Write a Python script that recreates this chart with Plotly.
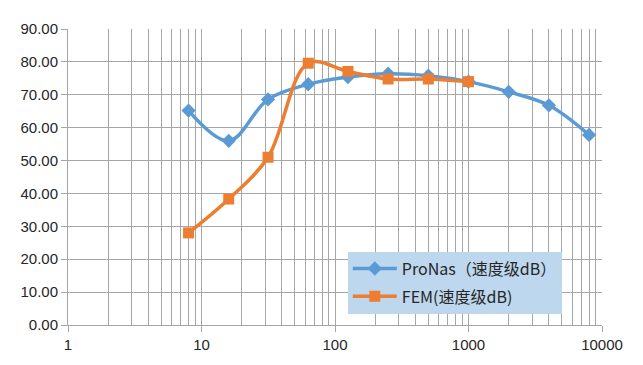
import plotly.graph_objects as go

freq_pronas = [8, 16, 31.5, 63, 125, 250, 500, 1000, 2000, 4000, 8000]
val_pronas = [65.2, 56.0, 68.6, 73.2, 75.4, 76.4, 75.8, 74.0, 70.9, 66.8, 57.8]
freq_fem = [8, 16, 31.5, 63, 125, 250, 500, 1000]
val_fem = [28.0, 38.3, 51.0, 79.6, 77.1, 74.8, 74.8, 74.0]
name_pronas = "ProNas（速度级dB）"
name_fem = "FEM(速度级dB)"
y_ticks = [0, 10, 20, 30, 40, 50, 60, 70, 80, 90]
x_major = [1, 10, 100, 1000, 10000]
x_minor = [m * d for d in [1, 10, 100, 1000] for m in range(2, 10)]

blue = "#5B9BD5"
orange = "#ED7D31"
grid = "#A6A6A6"

fig = go.Figure()
fig.add_trace(go.Scatter(
    x=freq_pronas, y=val_pronas, name=name_pronas, mode="lines+markers",
    legendgroup="a",
    line=dict(color=blue, width=3.5, shape="spline", smoothing=1.0),
    marker=dict(symbol="diamond", size=11, color=blue),
))
fig.add_trace(go.Scatter(
    x=freq_fem, y=val_fem, name=name_fem, mode="lines+markers",
    legendgroup="b",
    line=dict(color=orange, width=3.5, shape="spline", smoothing=1.0),
    marker=dict(symbol="square", size=11, color=orange),
))

font_family = "Liberation Sans, Noto Sans CJK SC, sans-serif"
fig.update_layout(
    width=635, height=357,
    margin=dict(l=60, r=41, t=16, b=39),
    paper_bgcolor="white", plot_bgcolor="white",
    font=dict(family=font_family, size=15, color="#262626"),
    legend=dict(
        x=0.524, y=0.248, xanchor="left", yanchor="top",
        bgcolor="#BDD7EE", bordercolor="#BDD7EE", borderwidth=0,
        font=dict(size=16, color="#262626", family="Noto Sans CJK SC, sans-serif"),
        tracegroupgap=4, itemwidth=44,
    ),
    showlegend=True,
)
fig.update_xaxes(
    type="log", range=[0, 4],
    tickvals=x_major, ticktext=[str(v) for v in x_major],
    showgrid=True, gridcolor=grid, gridwidth=1,
    showline=True, linecolor=grid, linewidth=1,
    ticks="outside", ticklen=6, tickcolor=grid,
    minor=dict(tickvals=x_minor, showgrid=True, gridcolor=grid, gridwidth=1, ticks=""),
    zeroline=False,
    tickfont=dict(size=15),
)
fig.update_yaxes(
    range=[0, 90],
    tickvals=y_ticks, ticktext=[f"{v:.2f}" for v in y_ticks],
    showgrid=True, gridcolor=grid, gridwidth=1,
    showline=True, linecolor=grid, linewidth=1,
    ticks="outside", ticklen=6, tickcolor=grid,
    zeroline=False,
    tickfont=dict(size=15),
)
fig.write_html("out.html")
